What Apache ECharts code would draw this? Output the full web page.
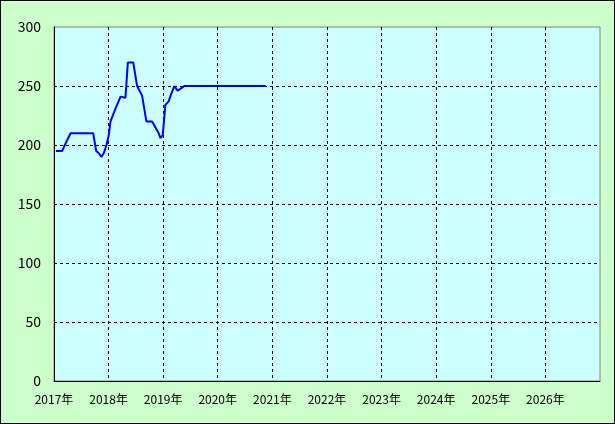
<!DOCTYPE html>
<html>
<head>
<meta charset="utf-8">
<script src="https://cdn.jsdelivr.net/npm/echarts@6/dist/echarts.min.js"></script>
<style>
html,body{margin:0;padding:0;background:#ccffcc;}
#c{width:615px;height:424px;box-sizing:border-box;border:1px solid #000;}
</style>
</head>
<body>
<div id="c"></div>
<script>
var dates = ['2017-01-14','2017-02-25','2017-03-18','2017-04-22','2017-09-20','2017-10-10','2017-10-28','2017-11-13','2017-11-30','2017-12-18',
  '2018-01-02','2018-01-14','2018-02-17','2018-03-22','2018-04-24','2018-05-10','2018-06-15','2018-07-11','2018-08-13','2018-09-11',
  '2018-10-19','2018-11-10','2018-12-02','2018-12-13','2018-12-29','2019-01-16','2019-02-07','2019-02-23','2019-03-17','2019-04-08',
  '2019-05-01','2019-05-23','2020-11-18'];
var values = [195,195,201,210,210,195,193,190,193,200,
  208,220,231,241,240,270,270,250,242,220,
  220,215,210,206,208,234,237,243,250,246,
  248,250,250];
var yTicks = [0,50,100,150,200,250,300];
var yearSuffix = '年';

var seriesData = dates.map(function(d,i){ return [d, values[i]]; });
var chart = echarts.init(document.getElementById('c'));
chart.setOption({
  animation:false,
  backgroundColor:'#ccffcc',
  grid:{left:53,right:14,top:26,bottom:42,show:true,backgroundColor:'#ccffff',borderColor:'#808080',borderWidth:1},
  xAxis:{
    type:'time',
    min:'2017-01-01',max:'2027-01-01',
    minInterval:365*24*3600*1000, maxInterval:366*24*3600*1000,
    axisLine:{show:true,lineStyle:{color:'#000',width:1}},
    axisTick:{show:false},
    axisLabel:{color:'#000',fontSize:12,fontFamily:'Noto Sans CJK JP',margin:12,showMinLabel:true,showMaxLabel:false,
      formatter:function(v){return new Date(v).getFullYear()+yearSuffix;}},
    splitLine:{show:true,showMinLine:false,showMaxLine:false,lineStyle:{color:'#000',type:[3,3],width:1}}
  },
  yAxis:{
    type:'value',min:yTicks[0],max:yTicks[yTicks.length-1],interval:50,
    axisLine:{show:true,lineStyle:{color:'#000',width:1}},
    axisTick:{show:false},
    axisLabel:{color:'#000',fontSize:14,fontFamily:'Noto Sans CJK JP',margin:13},
    splitLine:{show:true,showMinLine:false,showMaxLine:false,lineStyle:{color:'#000',type:[3,3],width:1}}
  },
  series:[{type:'line',data:seriesData,showSymbol:false,symbol:'none',lineStyle:{color:'#0000ff',width:2},itemStyle:{color:'#0000ff'}}]
});
</script>
</body>
</html>
